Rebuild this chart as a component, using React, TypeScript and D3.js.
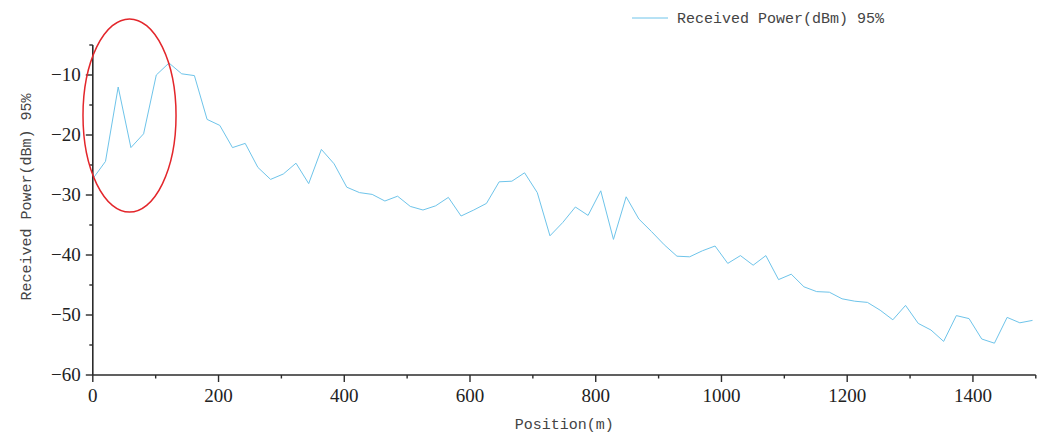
import React from "react";
import * as d3 from "d3";

const positions: number[] = [
  0, 20.2, 40.4, 60.6, 80.8, 101, 121.2, 141.4, 161.6, 181.8,
  202, 222.2, 242.4, 262.6, 282.8, 303, 323.2, 343.4, 363.6, 383.8,
  404, 424.2, 444.4, 464.6, 484.8, 505, 525.2, 545.4, 565.6, 585.8,
  606, 626.2, 646.4, 666.6, 686.8, 707, 727.2, 747.4, 767.6, 787.8,
  808, 828.2, 848.4, 868.6, 888.8, 909, 929.2, 949.4, 969.6, 989.8,
  1010, 1030.2, 1050.4, 1070.6, 1090.8, 1111, 1131.2, 1151.4, 1171.6, 1191.8,
  1212, 1232.2, 1252.4, 1272.6, 1292.8, 1313, 1333.2, 1353.4, 1373.6, 1393.8,
  1414, 1434.2, 1454.4, 1474.6, 1494.8,
];

const receivedPower95: number[] = [
  -27.3, -24.4, -12.0, -22.1, -19.8, -10.0, -8.0, -9.8, -10.1, -17.4,
  -18.4, -22.1, -21.4, -25.4, -27.4, -26.5, -24.7, -28.1, -22.4, -24.8,
  -28.7, -29.6, -29.9, -31.0, -30.2, -31.9, -32.5, -31.8, -30.4, -33.5,
  -32.5, -31.4, -27.8, -27.7, -26.3, -29.6, -36.8, -34.6, -32.0, -33.4,
  -29.3, -37.4, -30.3, -34.0, -36.1, -38.3, -40.2, -40.3, -39.3, -38.5,
  -41.4, -40.1, -41.7, -40.1, -44.1, -43.2, -45.3, -46.1, -46.2, -47.3,
  -47.7, -47.9, -49.2, -50.8, -48.4, -51.4, -52.5, -54.4, -50.1, -50.6,
  -54.0, -54.7, -50.4, -51.3, -50.9,
];

const xMajorTicks: number[] = [0, 200, 400, 600, 800, 1000, 1200, 1400];
const xMinorTicks: number[] = [100, 300, 500, 700, 900, 1100, 1300, 1500];
const yMajorTicks: number[] = [-60, -50, -40, -30, -20, -10];
const yMinorTicks: number[] = [-55, -45, -35, -25, -15, -5];

const seriesName = "Received Power(dBm) 95%";
const xTitle = "Position(m)";
const yTitle = "Received Power(dBm) 95%";

// highlight ellipse (data coords): center position, center value, radii
const highlight = { cx: 58.4, cy: -16.75, rx: 74, ry: 16.1 };

export default function App() {
  const W = 1043;
  const H = 434;
  const left = 92.8;
  const right = 1035.8;
  const top = 45;
  const bottom = 375;

  const x = d3.scaleLinear().domain([0, 1500]).range([left, right]);
  const y = d3.scaleLinear().domain([-60, -5]).range([bottom, top]);

  const data = positions.map((p, i) => [p, receivedPower95[i]] as [number, number]);
  const line = d3
    .line<[number, number]>()
    .x((d) => x(d[0]))
    .y((d) => y(d[1]));

  const fmt = (v: number) => (v < 0 ? "\u2212" + Math.abs(v) : String(v));
  const axisColor = "#2b2b2b";
  const tickFont = "'Liberation Serif', 'Times New Roman', serif";
  const monoFont = "'Liberation Mono', 'DejaVu Sans Mono', monospace";
  const lineColor = "#6ec4ea";

  const ecx = x(highlight.cx);
  const ecy = y(highlight.cy);
  const erx = x(highlight.cx + highlight.rx) - ecx;
  const ery = y(highlight.cy - highlight.ry) - ecy;

  return (
    <svg
      width={W}
      height={H}
      style={{ position: "absolute", left: 0, top: 0, background: "#fff" }}
    >
      {/* data line */}
      <path d={line(data) || ""} fill="none" stroke={lineColor} strokeWidth={1} />

      {/* axes */}
      <line x1={left} x2={left} y1={top} y2={bottom} stroke={axisColor} strokeWidth={1.6} />
      <line x1={left} x2={right} y1={bottom} y2={bottom} stroke={axisColor} strokeWidth={1.6} />

      {yMajorTicks.map((t) => (
        <g key={"ym" + t}>
          <line x1={left - 7} x2={left} y1={y(t)} y2={y(t)} stroke={axisColor} strokeWidth={1.4} />
          <text
            x={left - 12}
            y={y(t)}
            dy="0.34em"
            textAnchor="end"
            fontFamily={tickFont}
            fontSize={19}
            fill="#222"
          >
            {fmt(t)}
          </text>
        </g>
      ))}
      {yMinorTicks.map((t) => (
        <line key={"yn" + t} x1={left - 3.5} x2={left} y1={y(t)} y2={y(t)} stroke={axisColor} strokeWidth={1.4} />
      ))}

      {xMajorTicks.map((t) => (
        <g key={"xm" + t}>
          <line x1={x(t)} x2={x(t)} y1={bottom} y2={bottom + 7} stroke={axisColor} strokeWidth={1.4} />
          <text
            x={x(t)}
            y={bottom + 27}
            textAnchor="middle"
            fontFamily={tickFont}
            fontSize={19}
            fill="#222"
          >
            {fmt(t)}
          </text>
        </g>
      ))}
      {xMinorTicks.map((t) => (
        <line key={"xn" + t} x1={x(t)} x2={x(t)} y1={bottom} y2={bottom + 3.5} stroke={axisColor} strokeWidth={1.4} />
      ))}

      {/* axis titles */}
      <text
        x={(left + right) / 2}
        y={429}
        textAnchor="middle"
        fontFamily={monoFont}
        fontSize={15}
        fill="#444"
      >
        {xTitle}
      </text>
      <text
        transform={`translate(31, 197) rotate(-90)`}
        textAnchor="middle"
        fontFamily={monoFont}
        fontSize={15}
        fill="#444"
      >
        {yTitle}
      </text>

      {/* legend */}
      <line x1={632} x2={668} y1={18} y2={18} stroke={lineColor} strokeWidth={1} />
      <text x={677} y={23} fontFamily={monoFont} fontSize={15} fill="#444">
        {seriesName}
      </text>

      {/* highlight ellipse */}
      <ellipse cx={ecx} cy={ecy} rx={erx} ry={ery} fill="none" stroke="#e3262b" strokeWidth={1.5} />
    </svg>
  );
}
